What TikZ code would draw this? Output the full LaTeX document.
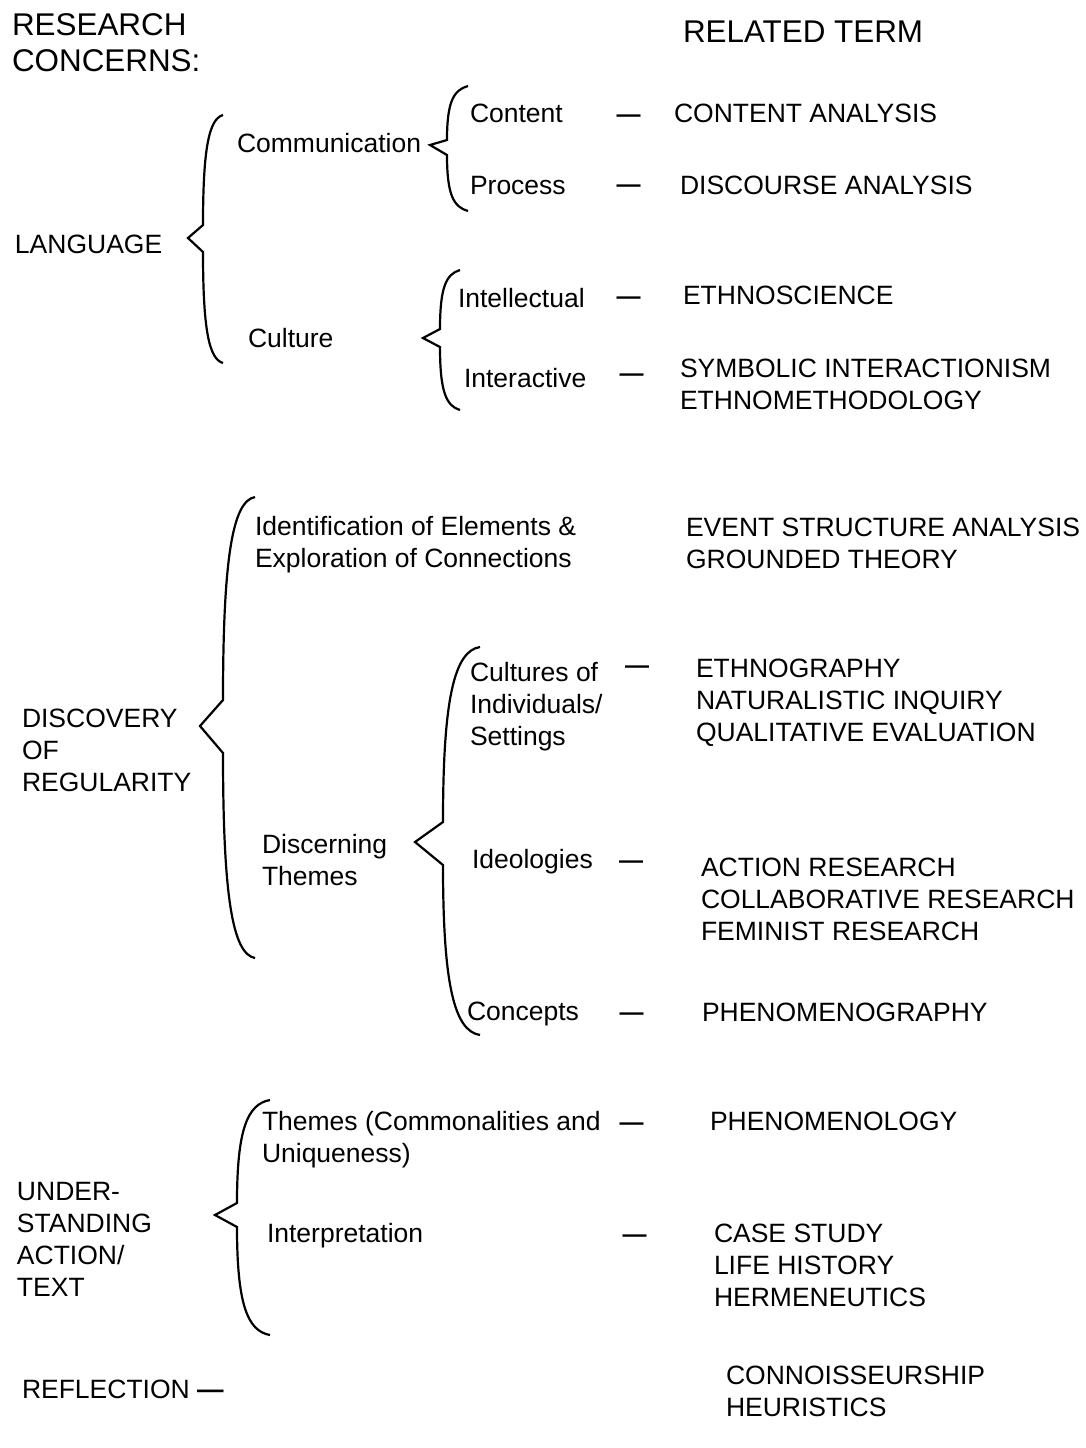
\documentclass[tikz,border=0pt]{standalone}
\usepackage{fontspec}
\setmainfont{Liberation Sans}
\newcommand\stk[1]{\vtop{\baselineskip=16pt\lineskiplimit=-20pt\halign{##\hfil\cr#1\crcr}}}
\newcommand\hstk[1]{\vtop{\baselineskip=18pt\lineskiplimit=-20pt\halign{##\hfil\cr#1\crcr}}}
% curly brace opening to the right: xe ytop xs yk1 xt ytip yk2 ybot
\newcommand\cbrace[8]{%
  \draw[brc] (#1,#2) .. controls ({#3+0.3*(#1-#3)},{#2+4}) and (#3,{#2+0.3*(#4-#2)}) .. (#3,#4)
    -- (#5,#6) -- (#3,#7)
    .. controls (#3,{#8-0.3*(#8-#7)}) and ({#3+0.3*(#1-#3)},{#8-4}) .. (#1,#8);}
\begin{document}
\begin{tikzpicture}[x=0.5pt,y=-0.5pt,
  txt/.style={anchor=base west,inner sep=0pt,outer sep=0pt,font=\fontsize{13.25}{16}\selectfont},
  hdr/.style={txt,font=\fontsize{15.7}{18}\selectfont},
  dsh/.style={anchor=base,inner sep=0pt,outer sep=0pt,font=\fontsize{12}{16}\selectfont\bfseries},
  brc/.style={line width=1.1pt,line join=miter}]
\useasboundingbox (0,0) rectangle (1086,1448);

% headers
\node[hdr] (rc) at (12,35) {\hstk{RESEARCH\cr CONCERNS:}};
\node[hdr] (rt) at (683,42) {RELATED TERM};

% LANGUAGE
\node[txt] (lang) at (15,253) {LANGUAGE};
\node[txt] (comm) at (237,152) {Communication};
\node[txt] (cont) at (470,122) {Content};
\node[txt] (proc) at (470,194) {Process};
\node[txt] (cult) at (248,347) {Culture};
\node[txt] (intel) at (458,307) {Intellectual};
\node[txt] (inter) at (464,387) {Interactive};
\node[txt] (ca) at (674,122) {CONTENT ANALYSIS};
\node[txt] (da) at (680,194) {DISCOURSE ANALYSIS};
\node[txt] (es) at (683,304) {ETHNOSCIENCE};
\node[txt] (si) at (680,377) {\stk{SYMBOLIC INTERACTIONISM\cr ETHNOMETHODOLOGY}};
\node[dsh] (d1) at (628.5,122) {—};
\node[dsh] (d2) at (628.5,192) {—};
\node[dsh] (d3) at (628.5,304) {—};
\node[dsh] (d4) at (631.5,381) {—};
\cbrace{223}{115}{203}{225}{188}{238}{252}{363}
\cbrace{468}{86}{447}{140}{430}{145}{155}{211}
\cbrace{460}{270}{440}{329}{423}{338}{347}{410}

% DISCOVERY OF REGULARITY
\node[txt] (disc) at (22,727) {\stk{DISCOVERY\cr OF\cr REGULARITY}};
\node[txt] (ident) at (255,535) {\stk{Identification of Elements \&\cr Exploration of Connections}};
\node[txt] (esa) at (686,536) {\stk{EVENT STRUCTURE ANALYSIS\cr GROUNDED THEORY}};
\node[txt] (dt) at (262,853) {\stk{Discerning\cr Themes}};
\node[txt] (coi) at (470,681) {\stk{Cultures of\cr Individuals/\cr Settings}};
\node[txt] (ideo) at (472,868) {Ideologies};
\node[txt] (conc) at (467,1020) {Concepts};
\node[txt] (eth) at (696,677) {\stk{ETHNOGRAPHY\cr NATURALISTIC INQUIRY\cr QUALITATIVE EVALUATION}};
\node[txt] (ar) at (701,876) {\stk{ACTION RESEARCH\cr COLLABORATIVE RESEARCH\cr FEMINIST RESEARCH}};
\node[txt] (pg) at (702,1021) {PHENOMENOGRAPHY};
\node[dsh] (d5) at (637,673) {—};
\node[dsh] (d6) at (631,868) {—};
\node[dsh] (d7) at (631.5,1020) {—};
\cbrace{255}{497}{223}{700}{200}{726}{753}{958}
\cbrace{480}{647}{443}{822}{415}{842}{865}{1035}

% UNDERSTANDING ACTION/TEXT
\node[txt] (und) at (17,1200) {\stk{UNDER-\cr STANDING\cr ACTION/\cr TEXT}};
\node[txt] (thm) at (262,1130) {\stk{Themes (Commonalities and\cr Uniqueness)}};
\node[txt] (interp) at (267,1242) {Interpretation};
\node[txt] (pl) at (710,1130) {PHENOMENOLOGY};
\node[txt] (cs) at (714,1242) {\stk{CASE STUDY\cr LIFE HISTORY\cr HERMENEUTICS}};
\node[dsh] (d8) at (631.5,1130) {—};
\node[dsh] (d9) at (634.5,1242) {—};
\cbrace{270}{1100}{237}{1203}{215}{1215}{1227}{1335}

% REFLECTION
\node[txt] (refl) at (22,1398) {REFLECTION \textbf{—}};
\node[txt] (con) at (726,1384) {\stk{CONNOISSEURSHIP\cr HEURISTICS}};
\end{tikzpicture}
\end{document}
